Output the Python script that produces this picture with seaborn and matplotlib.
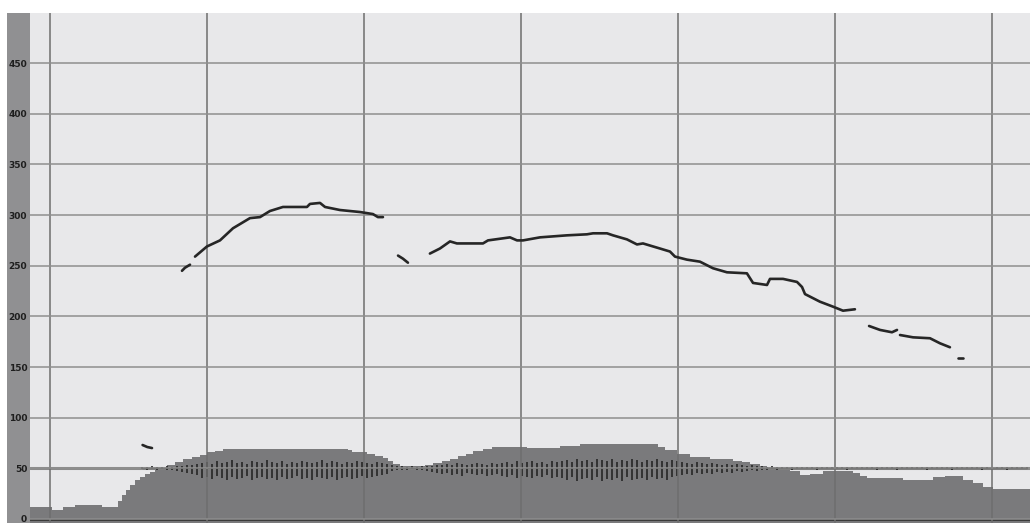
import numpy as np
import pandas as pd
import matplotlib
matplotlib.use("Agg")
import matplotlib.pyplot as plt
from matplotlib.patches import Rectangle
import seaborn as sns

# ---- pitch track (time in ms, F0 in Hz), one list pair per voiced stretch ----
seg0_t = [159.0, 162.0, 165.0]
seg0_f = [73, 71, 70]
seg1_t = [184.1, 186.0, 189.2]
seg1_f = [245, 248, 251]
seg2_t = [192.4, 200.0, 208.3, 216.6, 227.4, 233.8, 240.1, 248.4, 263.7, 265.6,
          272.0, 275.2, 284.7, 297.5, 305.7, 308.9, 312.1]
seg2_f = [259, 269, 275, 287, 297, 298, 304, 308, 308, 311,
          312, 308, 305, 303, 301, 298, 298]
seg3_t = [321.7, 324.8, 328.0]
seg3_f = [260, 257, 253]
seg4_t = [342.0, 348.4, 354.8, 359.2, 375.8, 379.0, 393.0, 397.5, 401.3, 412.1,
          429.3, 442.0, 445.9, 454.8, 458.6, 467.5, 473.9, 477.7, 488.5, 494.9,
          498.1, 505.7, 514.0, 522.3, 531.2, 543.9, 547.8, 556.7, 558.6, 566.9,
          575.8, 579.0, 580.9, 590.4, 598.7, 605.1, 612.7]
seg4_f = [262, 267, 274, 272, 272, 275, 278, 275, 275, 278,
          280, 281, 282, 282, 280, 276, 271, 272, 267, 264,
          259, 256, 254, 247.5, 243.5, 242.5, 233, 231, 237, 237,
          234, 229, 222, 214.5, 209.6, 205.6, 207]
seg5_t = [621.7, 628.7, 636.3, 639.5]
seg5_f = [190.5, 186.6, 184.3, 186.6]
seg6_t = [641.4, 649.7, 660.5, 666.9, 673.2]
seg6_f = [181.6, 179.3, 178.4, 173.4, 169.5]
seg7_t = [678.3, 681.5]
seg7_f = [158.6, 158.6]

# ---- intensity envelope (step levels, time in ms) ----
env_t = [87.3, 101.3, 108.3, 115.9, 133.1, 143.3, 145.9, 148.4, 151.0, 154.1,
         157.3, 160.5, 163.7, 166.9, 170.1, 174.5, 179.6, 184.7, 190.4, 195.5,
         200.0, 205.1, 210.2, 289.8, 292.4, 301.9, 307.0, 312.1, 315.3, 318.5,
         322.9, 328.0, 333.8, 338.9, 343.9, 349.7, 354.8, 359.9, 365.0, 369.4,
         375.8, 381.5, 403.8, 424.8, 437.6, 487.3, 491.7, 499.4, 507.6, 520.4,
         535.0, 540.8, 545.9, 552.2, 556.7, 565.0, 571.3, 577.7, 584.1, 592.4,
         600.0, 611.5, 615.9, 620.4, 643.3, 662.4, 670.1, 681.5, 687.9, 694.3,
         700.6, 724.2]
env_db = [12, 9, 12, 14, 12, 18, 24, 29, 34, 38,
          41, 44, 46, 49, 51, 53, 56, 59, 61, 63,
          66, 67, 69, 68, 66, 64, 62, 60, 57, 54,
          52, 52, 52, 53, 55, 57, 59, 62, 64, 67,
          69, 71, 70, 72, 74, 71, 68, 64, 61, 59,
          57, 56, 54, 52, 50, 48, 47, 43, 44, 47,
          47, 45, 42, 40, 38, 41, 42, 38, 35, 32,
          30, 30]

# ---- waveform spike extents above / below the 50 baseline ----
wave_up = [1, 1, 2, 1, 1, 2, 1, 2, 2, 3, 3, 4,
           5, 6, 4, 7, 5, 6, 8, 5, 6, 4, 7, 6, 5, 8, 6, 5, 7, 4, 6, 5, 7, 6, 5,
           6, 8, 5, 7, 6, 4, 6, 5, 7, 6, 5, 4, 6, 5, 4,
           3, 2, 2, 1, 2, 1, 2, 2,
           2, 3, 3, 4, 3, 5, 4, 3, 4, 5, 4, 3, 5, 4,
           5, 6, 4, 7, 5, 6, 7, 5, 6, 4, 7, 6,
           7, 8, 6, 9, 7, 8, 6, 9, 8, 7, 9, 6, 8, 7, 9, 8, 6, 8, 7, 9, 7, 6, 8, 7,
           6, 5, 4, 6, 5, 4, 5, 4, 3, 4, 3, 4, 3,
           2, 3, 2, 2, 1, 2, 1,
           1, 1.5, 1, 1, 1.5, 1, 1, 1, 1.5, 1, 1, 1, 1.5, 1, 1, 1, 1, 1.5, 1, 1,
           1, 1.5, 1, 1, 1, 1, 1.5, 1, 1, 1, 1, 1, 1.5, 1, 1, 1, 1, 1.5, 1, 1,
           1, 1, 1.5, 1, 1, 1, 1, 1, 1.5, 1]
wave_down = [1, 2, 1, 2, 1, 2, 2, 3, 4, 5, 6, 7,
             10, 9, 11, 8, 10, 12, 9, 11, 10, 8, 12, 10, 9, 11, 10, 12, 9, 11, 10,
             8, 11, 10, 12, 9, 10, 11, 9, 12, 10, 9, 11, 10, 8, 10, 9, 8, 7, 6,
             3, 2, 2, 2, 1, 2, 2, 3,
             4, 5, 6, 5, 7, 6, 8, 5, 6, 7, 6, 8, 7, 6,
             8, 9, 7, 10, 8, 9, 10, 8, 9, 7, 10, 9,
             10, 12, 9, 13, 11, 10, 12, 9, 13, 11, 12, 10, 13, 9, 12, 11, 10, 12,
             9, 11, 10, 12, 9, 8,
             7, 6, 7, 5, 6, 5, 6, 4, 5, 4, 5, 3, 4,
             3, 2, 3, 2, 2, 1, 2,
             1, 1, 1.5, 1, 1, 1, 1, 1.5, 1, 1, 1, 1, 1, 1.5, 1, 1, 1, 1, 1, 1.5,
             1, 1, 1, 1.5, 1, 1, 1, 1, 1, 1.5, 1, 1, 1, 1, 1.5, 1, 1, 1, 1, 1,
             1.5, 1, 1, 1, 1, 1.5, 1, 1, 1, 1]
wave_start_ms = 158.6
wave_period_ms = 3.185
wave_base = 50

y_ticks = [0, 50, 100, 150, 200, 250, 300, 350, 400, 450]
x_grid_ms = [100, 200, 300, 400, 500, 600, 700]

# ---------------------------------------------------------------------------
sns.set_style("whitegrid")
plt.rcParams["font.family"] = ["DejaVu Sans"]

W, H, DPI = 1030, 523, 100
fig = plt.figure(figsize=(W / DPI, H / DPI), dpi=DPI)
fig.patch.set_facecolor("white")

# grey label strip on the left, kept underneath the axes and its tick labels
fig.patches.append(Rectangle((7 / W, 0), 23 / W, (H - 13) / H,
                             transform=fig.transFigure, facecolor="#909092",
                             edgecolor="none", zorder=-1))

ax = fig.add_axes([30 / W, 0, 1 - 30 / W, (H - 13) / H])
ax.set_facecolor("#e8e8ea")
ax.set_xlim(87.3, 724.2)
ax.set_ylim(-4, 499.5)

# intensity envelope
ax.fill_between(env_t, -4, env_db, step="post", color="#7a7a7c",
                linewidth=0, zorder=1)

# grid
ax.set_xticks(x_grid_ms)
ax.set_yticks(y_ticks)
ax.set_axisbelow(False)
ax.grid(axis="y", color="#8e8e8e", linewidth=1.1, zorder=2)
ax.grid(axis="x", color="#6e6e6e", linewidth=1.1, zorder=2)
ax.axhline(wave_base, color="#8a8a8a", linewidth=2.2, zorder=2.1)
ax.axhline(-1.5, color="#3a3a3a", linewidth=1.5, zorder=2.2)

# waveform spikes
wave_t = wave_start_ms + wave_period_ms * np.arange(len(wave_up))
ax.vlines(wave_t, wave_base - np.array(wave_down), wave_base + np.array(wave_up),
          color="#262626", linewidth=1.2, zorder=2.5)
ax.plot(wave_t, np.full(len(wave_t), wave_base), color="#3a3a3a",
        linewidth=0.9, zorder=2.4)

# pitch track
segments = [(seg0_t, seg0_f), (seg1_t, seg1_f), (seg2_t, seg2_f), (seg3_t, seg3_f),
            (seg4_t, seg4_f), (seg5_t, seg5_f), (seg6_t, seg6_f), (seg7_t, seg7_f)]
pitch = pd.concat([pd.DataFrame({"t": t, "f0": f, "seg": i})
                   for i, (t, f) in enumerate(segments)], ignore_index=True)
sns.lineplot(data=pitch, x="t", y="f0", units="seg", estimator=None,
             color="#262626", linewidth=1.9, ax=ax, zorder=3)

ax.set_xlabel("")
ax.set_ylabel("")
ax.tick_params(axis="x", labelbottom=False, length=0)
ax.tick_params(axis="y", length=0, pad=2, labelsize=6.5, labelcolor="#1e1e1e")
for lab in ax.get_yticklabels():
    lab.set_fontweight("bold")
for s in ax.spines.values():
    s.set_visible(False)

fig.savefig("out.png", dpi=DPI, facecolor="white")
